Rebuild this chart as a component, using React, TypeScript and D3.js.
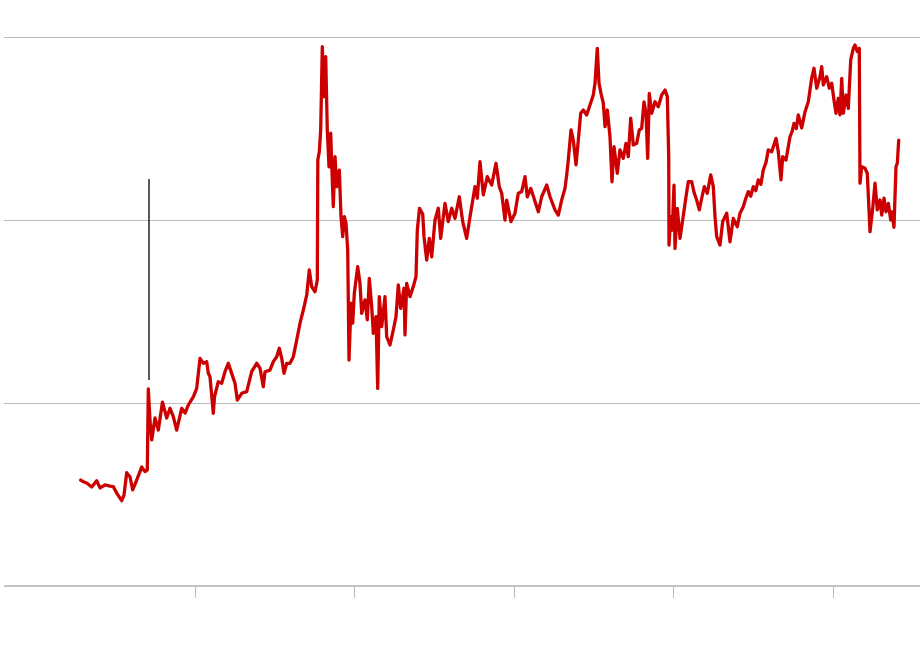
import React from "react";
import * as d3 from "d3";

// Decimal years of each observation
const years: number[] = [
  1996.417, 1996.498, 1996.605, 1996.762, 1996.918, 1997.022, 1997.179, 1997.335, 1997.439, 1997.545,
  1997.702, 1997.774, 1997.859, 1997.962, 1998.047, 1998.172, 1998.329, 1998.433, 1998.505, 1998.536,
  1998.589, 1998.643, 1998.746, 1998.85, 1998.981, 1999.113, 1999.216, 1999.32, 1999.426, 1999.583,
  1999.687, 1999.79, 1999.947, 2000.053, 2000.157, 2000.26, 2000.367, 2000.417, 2000.47, 2000.574,
  2000.611, 2000.73, 2000.837, 2000.94, 2001.044, 2001.15, 2001.254, 2001.326, 2001.464, 2001.621,
  2001.777, 2001.934, 2002.038, 2002.141, 2002.194, 2002.351, 2002.455, 2002.561, 2002.643, 2002.718,
  2002.79, 2002.875, 2002.978, 2003.082, 2003.188, 2003.292, 2003.395, 2003.502, 2003.583, 2003.658,
  2003.762, 2003.834, 2003.85, 2003.897, 2003.94, 2003.991, 2004.044, 2004.097, 2004.147, 2004.201,
  2004.254, 2004.285, 2004.335, 2004.389, 2004.442, 2004.524, 2004.577, 2004.63, 2004.68, 2004.734,
  2004.787, 2004.828, 2004.89, 2004.944, 2004.994, 2005.1, 2005.172, 2005.226, 2005.329, 2005.401,
  2005.464, 2005.539, 2005.589, 2005.674, 2005.727, 2005.777, 2005.853, 2005.956, 2006.009, 2006.113,
  2006.216, 2006.301, 2006.373, 2006.448, 2006.552, 2006.583, 2006.636, 2006.74, 2006.843, 2006.928,
  2006.969, 2007.038, 2007.138, 2007.179, 2007.263, 2007.345, 2007.42, 2007.524, 2007.627, 2007.702,
  2007.837, 2007.94, 2008.047, 2008.15, 2008.285, 2008.392, 2008.517, 2008.621, 2008.777, 2008.85,
  2008.934, 2009.038, 2009.163, 2009.301, 2009.436, 2009.539, 2009.614, 2009.718, 2009.771, 2009.906,
  2010.031, 2010.135, 2010.241, 2010.345, 2010.417, 2010.524, 2010.627, 2010.762, 2010.868, 2011.025,
  2011.129, 2011.285, 2011.389, 2011.495, 2011.599, 2011.652, 2011.702, 2011.787, 2011.859, 2011.944,
  2012.016, 2012.091, 2012.172, 2012.279, 2012.382, 2012.486, 2012.539, 2012.611, 2012.665, 2012.727,
  2012.799, 2012.853, 2012.925, 2013.009, 2013.072, 2013.135, 2013.238, 2013.323, 2013.426, 2013.511,
  2013.583, 2013.658, 2013.74, 2013.846, 2013.928, 2014.003, 2014.075, 2014.138, 2014.191, 2014.241,
  2014.317, 2014.42, 2014.524, 2014.63, 2014.734, 2014.806, 2014.85, 2014.859, 2014.912, 2014.962,
  2015.016, 2015.047, 2015.119, 2015.204, 2015.288, 2015.392, 2015.464, 2015.571, 2015.652, 2015.727,
  2015.809, 2015.884, 2015.966, 2016.06, 2016.166, 2016.248, 2016.301, 2016.354, 2016.458, 2016.542,
  2016.668, 2016.771, 2016.875, 2017.0, 2017.085, 2017.188, 2017.26, 2017.345, 2017.42, 2017.502,
  2017.58, 2017.658, 2017.74, 2017.815, 2017.9, 2017.972, 2018.078, 2018.213, 2018.285, 2018.37,
  2018.423, 2018.527, 2018.652, 2018.72, 2018.777, 2018.85, 2018.912,
  2019.019, 2019.122, 2019.226, 2019.332, 2019.404, 2019.489, 2019.592, 2019.646, 2019.696, 2019.803,
  2019.884, 2019.959, 2020.031, 2020.094, 2020.166, 2020.219, 2020.273, 2020.323, 2020.408, 2020.48,
  2020.555, 2020.636, 2020.69, 2020.762, 2020.824, 2020.846, 2020.9, 2021.003, 2021.075, 2021.16,
  2021.245, 2021.317, 2021.389, 2021.473, 2021.527, 2021.599, 2021.661, 2021.734, 2021.809, 2021.85,
  2021.912, 2021.975, 2022.016, 2022.06,
];

// Series values at each observation
const values: number[] = [
  57.9, 57.0, 56.3, 54.1, 57.5, 53.6, 55.2, 54.6, 54.3, 50.8,
  46.6, 49.7, 61.9, 59.7, 52.5, 57.9, 65.0, 62.5, 63.4, 107.7,
  90.7, 79.8, 91.8, 85.2, 100.5, 91.8, 97.1, 92.5, 85.2, 97.1,
  94.5, 98.9, 103.4, 108.0, 124.4, 121.7, 122.6, 116.2, 114.4, 94.4,
  103.4, 111.6, 110.8, 117.1, 121.7, 116.2, 110.8, 101.6, 105.3, 106.2,
  117.1, 121.7, 119.0, 108.9, 117.1, 118.0, 122.6, 125.3, 129.9, 124.4,
  116.2, 121.7, 121.7, 125.3, 134.4, 143.6, 150.8, 159.0, 172.7, 163.6,
  160.8, 167.2, 232.8, 237.3, 249.2, 294.7, 267.4, 289.2, 249.2, 229.1,
  247.4, 231.0, 207.3, 234.6, 218.2, 227.3, 201.8, 190.9, 201.8, 198.2,
  183.6, 123.5, 154.5, 143.6, 159.9, 174.5, 165.4, 149.0, 156.3, 145.4,
  168.1, 152.6, 138.1, 147.2, 108.0, 158.1, 141.7, 158.1, 136.2, 131.7,
  139.9, 147.2, 164.5, 151.7, 162.7, 137.2, 165.4, 158.1, 163.6, 169.0,
  194.5, 206.4, 203.3, 190.9, 178.1, 190.0, 179.9, 200.0, 206.4, 190.0,
  209.1, 199.1, 206.4, 200.9, 212.7, 199.1, 190.0, 201.8, 218.2, 211.9,
  231.9, 213.7, 223.7, 219.1, 231.0, 218.2, 214.6, 200.0, 210.9, 199.1,
  203.7, 214.6, 215.5, 223.7, 212.7, 217.3, 211.9, 204.5, 212.7, 219.1,
  212.7, 205.5, 202.7, 210.9, 217.3, 224.6, 232.8, 249.2, 243.7, 230.1,
  243.7, 258.3, 260.1, 257.4, 262.8, 268.3, 274.7, 293.8, 274.7, 269.2,
  263.8, 251.0, 260.1, 245.5, 220.9, 240.1, 225.5, 238.3, 233.7, 241.9,
  234.6, 255.6, 241.0, 241.9, 249.2, 250.1, 264.6, 258.3, 233.7, 269.2,
  258.3, 264.6, 261.9, 268.3, 271.0, 267.4, 234.6, 186.3, 201.8, 194.5,
  219.1, 184.5, 206.4, 190.0, 200.0, 212.7, 220.9, 220.9, 214.6, 210.9,
  205.5, 211.9, 218.2, 214.6, 224.6, 218.2, 201.8, 190.9, 186.3, 199.1,
  203.7, 188.1, 200.9, 196.3, 203.7, 207.3, 211.5, 215.5, 213.0, 218.2,
  216.0, 221.9, 219.5, 227.3, 231.5, 238.3, 237.3, 244.6, 237.3, 221.9,
  234.6, 232.8, 245.5, 248.5, 252.8, 250.0, 257.4,
  250.3, 259.0, 264.6, 277.6, 282.9, 272.0, 278.3, 283.8, 273.8, 278.3,
  272.0, 274.7, 265.6, 258.3, 266.5, 257.4, 277.4, 258.3, 268.3, 261.0,
  287.4, 293.8, 295.6, 292.0, 293.8, 220.1, 229.1, 228.3, 225.5, 193.6,
  206.4, 220.1, 205.5, 210.9, 202.7, 211.9, 204.5, 209.1, 200.0, 204.5,
  196.0, 229.1, 231.0, 243.7,
];

const gridValues: number[] = [0, 100, 200, 300];
const tickYears: number[] = [2000, 2005, 2010, 2015, 2020];
// Annotation marker: year and value span
const markerYear = 1998.558;
const markerRange: number[] = [112.6, 222.4];

export default function App() {
  const width = 920;
  const height = 650;
  const plotLeft = 4;
  const plotRight = 920;

  const x = d3.scaleLinear().domain([2000, 2020]).range([195, 833]);
  const y = d3.scaleLinear().domain([0, 300]).range([586, 37]);

  const data = years.map((yr, i) => ({ yr, v: values[i] }));
  const line = d3
    .line<{ yr: number; v: number }>()
    .x((d) => x(d.yr))
    .y((d) => y(d.v));

  return (
    <svg
      width={width}
      height={height}
      style={{ position: "absolute", left: 0, top: 0, background: "#fff" }}
    >
      {gridValues.map((g) => (
        <line
          key={g}
          x1={plotLeft}
          x2={plotRight}
          y1={y(g)}
          y2={y(g)}
          stroke={g === 0 ? "#c4c4c4" : "#bdbdbd"}
          strokeWidth={g === 0 ? 1.5 : 1}
          shapeRendering="crispEdges"
        />
      ))}
      {tickYears.map((t) => (
        <line
          key={t}
          x1={x(t)}
          x2={x(t)}
          y1={y(0)}
          y2={y(0) + 12}
          stroke="#bdbdbd"
          strokeWidth={1}
          shapeRendering="crispEdges"
        />
      ))}
      <line
        x1={x(markerYear)}
        x2={x(markerYear)}
        y1={y(markerRange[0])}
        y2={y(markerRange[1])}
        stroke="#000"
        strokeWidth={1.3}
      />
      <path
        d={line(data) || ""}
        fill="none"
        stroke="#cc0000"
        strokeWidth={3.3}
        strokeLinejoin="round"
        strokeLinecap="round"
      />
    </svg>
  );
}
